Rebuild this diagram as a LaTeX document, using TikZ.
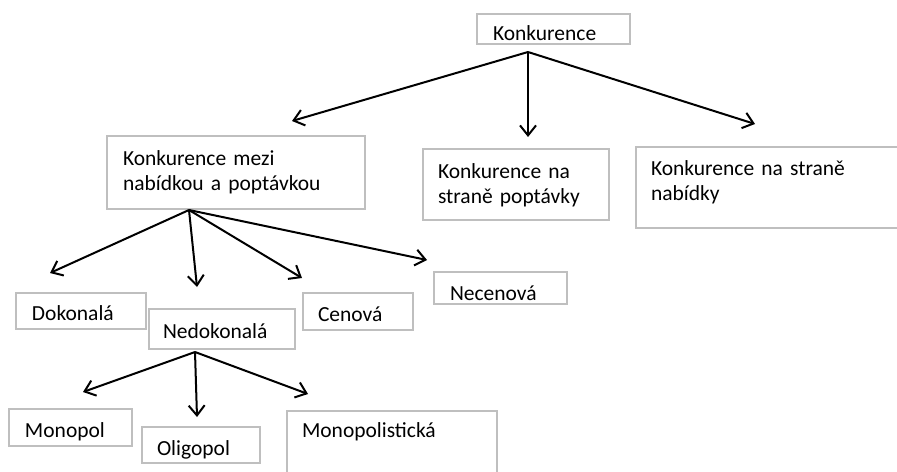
\documentclass[tikz,border=0pt]{standalone}
\usepackage{fontspec}
\setmainfont{Carlito}
\usetikzlibrary{arrows.meta}

\begin{document}
\begin{tikzpicture}
[x=0.5pt,y=-0.5pt,
 every node/.style={draw=black!25,line width=1pt,anchor=north west,inner ysep=0mm,outer sep=0mm,align=left,font=\fontsize{10.75}{12.5}\selectfont},
 arr/.style={-{Straight Barb[length=5pt,width=8pt]},line width=1pt}]
\useasboundingbox (0,0) rectangle (897,471);
\clip (0,0) rectangle (897,471);

\node (konk)   at (477,14)  [inner xsep=8pt,  text width=60.5pt, text height=13pt,   text depth=2pt]    {Konkurence};
\node (km)     at (107,136) [inner xsep=8pt,  text width=113pt,  text height=14.5pt, text depth=22pt]   {Konkurence mezi\\nabídkou a poptávkou};
\node (popt)   at (423,149) [inner xsep=7.5pt,text width=78pt,   text height=14.5pt, text depth=21pt]   {Konkurence na\\straně poptávky};
\node (nab)    at (636,147) [inner xsep=7.5pt,text width=122pt,  text height=14pt,   text depth=26.5pt] {Konkurence na straně\\nabídky};
\node (dok)    at (16,293)  [inner xsep=8pt,  text width=49pt,   text height=13.5pt, text depth=4.5pt]  {Dokonalá};
\node (nedok)  at (149,309) [inner xsep=7pt,  text width=59pt,   text height=14.5pt, text depth=5.5pt]  {Nedokonalá};
\node (cen)    at (303,293) [inner xsep=7.5pt,text width=40pt,   text height=14pt,   text depth=4.5pt]  {Cenová};
\node (necen)  at (434,272) [inner xsep=8pt,  text width=50.5pt, text height=14pt,   text depth=2pt]    {Necenová};
\node (monop)  at (9,409)   [inner xsep=8pt,  text width=45.5pt, text height=14pt,   text depth=4.5pt]  {Monopol};
\node (oligo)  at (142,427) [inner xsep=7.5pt,text width=44pt,   text height=14pt,   text depth=4pt]    {Oligopol};
\node (monpl)  at (287,411) [inner xsep=7.5pt,text width=90pt,   text height=13pt,   text depth=26.5pt] {Monopolistická};

% fan points under the boxes and arrow tips
\coordinate (konkF)  at (528,52);
\coordinate (kmT)    at (292,121);
\coordinate (poptT)  at (528,137);
\coordinate (nabT)   at (755,124);
\coordinate (kmF)    at (189,210);
\coordinate (dokT)   at (50,273);
\coordinate (nedokT) at (197,287);
\coordinate (cenT)   at (302,278);
\coordinate (necenT) at (427,260);
\coordinate (nedokF) at (195,352);
\coordinate (monopT) at (83,392);
\coordinate (oligoT) at (197,417);
\coordinate (monplT) at (308,394);

\draw[arr] (konkF)  -- (kmT);
\draw[arr] (konkF)  -- (poptT);
\draw[arr] (konkF)  -- (nabT);
\draw[arr] (kmF)    -- (dokT);
\draw[arr] (kmF)    -- (nedokT);
\draw[arr] (kmF)    -- (cenT);
\draw[arr] (kmF)    -- (necenT);
\draw[arr] (nedokF) -- (monopT);
\draw[arr] (nedokF) -- (oligoT);
\draw[arr] (nedokF) -- (monplT);
\end{tikzpicture}
\end{document}
